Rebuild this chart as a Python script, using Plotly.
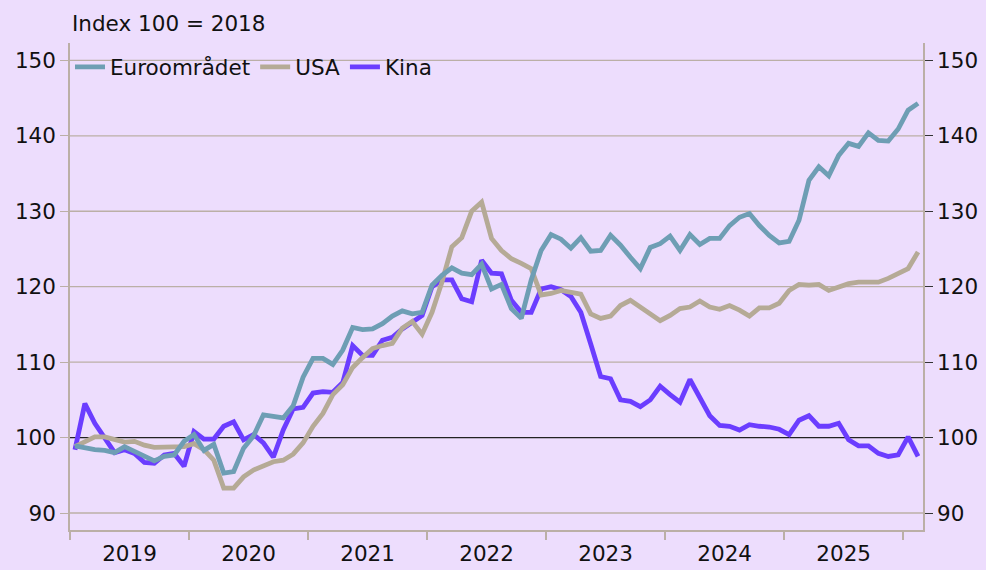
import plotly.graph_objects as go

# ---- data (monthly, Jan 2019 .. Feb 2026), index 2018 = 100 ----
months = [f"{y}-{m:02d}" for y in range(2019, 2027) for m in range(1, 13)][:86]

euro = [98.9, 98.6, 98.4, 98.3, 98.0, 98.8, 98.2, 97.5, 96.9, 97.5, 97.7, 99.5,
        100.4, 98.3, 99.1, 95.3, 95.5, 98.6, 100.2, 103.0, 102.8, 102.6, 104.2, 108.0,
        110.5, 110.5, 109.7, 111.6, 114.6, 114.3, 114.4, 115.1, 116.1, 116.8, 116.4, 116.6,
        120.2, 121.5, 122.5, 121.8, 121.6, 123.0, 119.7, 120.3, 117.1, 115.8, 120.9, 124.8,
        126.9, 126.3, 125.1, 126.5, 124.7, 124.8, 126.8, 125.5, 123.9, 122.4, 125.2, 125.7,
        126.7, 124.8, 126.9, 125.6, 126.4, 126.4, 128.1, 129.2, 129.7, 128.1, 126.8, 125.8,
        126.0, 128.8, 134.1, 135.9, 134.7, 137.4, 139.0, 138.6, 140.4, 139.4, 139.3, 140.9,
        143.4, 144.3]

usa = [98.8, 99.4, 100.1, 100.1, 99.8, 99.4, 99.5, 99.0, 98.7, 98.7, 98.7, 98.8,
       99.2, 98.4, 97.0, 93.3, 93.3, 94.8, 95.7, 96.3, 96.8, 97.0, 97.8, 99.3,
       101.5, 103.2, 105.7, 107.0, 109.3, 110.6, 111.8, 112.2, 112.5, 114.5, 115.4, 113.7,
       116.6, 120.6, 125.3, 126.5, 130.0, 131.2, 126.4, 124.8, 123.7, 123.1, 122.4, 118.9,
       119.1, 119.5, 119.2, 119.0, 116.4, 115.8, 116.1, 117.5, 118.2, 117.3, 116.4, 115.5,
       116.2, 117.1, 117.3, 118.1, 117.3, 117.0, 117.5, 116.9, 116.1, 117.2, 117.2, 117.8,
       119.5, 120.3, 120.2, 120.3, 119.5, 120.0, 120.4, 120.6, 120.6, 120.6, 121.1, 121.8,
       122.4, 124.6]

kina = [98.4, 104.5, 101.9, 99.8, 98.0, 98.4, 97.9, 96.7, 96.6, 97.7, 97.9, 96.2,
        100.8, 99.8, 99.8, 101.5, 102.1, 99.7, 100.4, 99.3, 97.4, 101.0, 103.8, 104.0,
        105.9, 106.1, 106.0, 107.3, 112.2, 110.9, 110.9, 112.9, 113.3, 114.4, 115.3, 116.2,
        120.0, 120.9, 120.9, 118.4, 118.0, 123.5, 121.8, 121.7, 118.2, 116.6, 116.6, 119.7,
        120.0, 119.6, 118.7, 116.6, 112.4, 108.1, 107.8, 105.0, 104.8, 104.1, 105.0, 106.8,
        105.7, 104.7, 107.7, 105.3, 102.9, 101.6, 101.5, 101.0, 101.7, 101.5, 101.4, 101.1,
        100.4, 102.3, 102.9, 101.5, 101.5, 101.9, 99.7, 98.9, 98.9, 97.9, 97.5, 97.7,
        100.1, 97.5]

year_labels = ["2019", "2020", "2021", "2022", "2023", "2024", "2025"]
y_ticks = [90, 100, 110, 120, 130, 140, 150]
BASE = 100

# ---- style ----
BG = "#EDDDFD"
GRID = "#BBAFA6"
C_EURO = "#6E9EB4"
C_USA = "#B5AA96"
C_KINA = "#6B3DFF"
FONT = "DejaVu Sans"
FS = 21.5
TXT = "#111111"
LW = 4.8

x = list(range(len(months)))
n = len(months)

fig = go.Figure()
fig.add_trace(go.Scatter(x=x, y=kina, name="Kina", mode="lines",
                         line=dict(color=C_KINA, width=LW), legendrank=3,
                         customdata=months, hovertemplate="%{customdata}: %{y}<extra>Kina</extra>"))
fig.add_trace(go.Scatter(x=x, y=usa, name="USA", mode="lines",
                         line=dict(color=C_USA, width=LW), legendrank=2,
                         customdata=months, hovertemplate="%{customdata}: %{y}<extra>USA</extra>"))
fig.add_trace(go.Scatter(x=x, y=euro, name="Euroområdet", mode="lines",
                         line=dict(color=C_EURO, width=LW), legendrank=1,
                         customdata=months, hovertemplate="%{customdata}: %{y}<extra>Euroområdet</extra>"))
# invisible trace to activate the right-hand axis
fig.add_trace(go.Scatter(x=x, y=euro, yaxis="y2", mode="lines", showlegend=False,
                         line=dict(width=0, color="rgba(0,0,0,0)"), hoverinfo="skip"))

yr = [87.75, 152.3]
xr = [-0.5, n - 0.5]

# horizontal gridlines (drawn as shapes so the base line can be dark)
for v in y_ticks:
    fig.add_shape(type="line", xref="paper", x0=0, x1=1, yref="y", y0=v, y1=v,
                  line=dict(color="#222222" if v == BASE else GRID,
                            width=1.4 if v == BASE else 1.3),
                  layer="below")

fig.update_layout(
    width=986, height=570,
    paper_bgcolor=BG, plot_bgcolor=BG,
    margin=dict(l=70, r=63, t=43, b=40, autoexpand=False),
    font=dict(family=FONT, size=FS, color=TXT),
    showlegend=True,
    legend=dict(orientation="h", x=0.0, y=0.993, xanchor="left", yanchor="top",
                bgcolor="rgba(0,0,0,0)", font=dict(size=FS, color=TXT),
                itemwidth=30, tracegroupgap=0),
    xaxis=dict(range=xr, showgrid=False, zeroline=False,
               showline=True, linecolor=GRID, linewidth=1.5,
               tickmode="array",
               tickvals=[12 * i + 5.5 for i in range(len(year_labels))],
               ticktext=year_labels,
               ticks="outside", ticklen=3, tickcolor="rgba(0,0,0,0)",
               tickfont=dict(size=FS, color=TXT),
               minor=dict(tickmode="array",
                          tickvals=[12 * i - 0.5 for i in range(len(year_labels) + 1)],
                          ticks="outside", ticklen=8, tickcolor=GRID, tickwidth=1.5,
                          showgrid=False)),
    yaxis=dict(range=yr, tickvals=y_ticks, showgrid=False,
               zeroline=False, showline=True, linecolor=GRID, linewidth=1.5,
               ticks="outside", ticklen=8, tickcolor=GRID, tickwidth=1.3,
               tickfont=dict(size=FS, color=TXT)),
    yaxis2=dict(range=yr, tickvals=y_ticks, overlaying="y", side="right",
                showgrid=False, zeroline=False, showline=True, linecolor=GRID, linewidth=1.5,
                ticks="outside", ticklen=8, tickcolor="#333333", tickwidth=1.3,
                tickfont=dict(size=FS, color=TXT)),
    annotations=[dict(text="Index 100 = 2018", xref="paper", yref="paper",
                      x=0, y=1, xanchor="left", yanchor="bottom", yshift=5,
                      showarrow=False, font=dict(size=FS, color=TXT))],
    hovermode="closest",
)

fig.write_html("out.html", config={"displayModeBar": False},
               post_script="document.body.style.margin='0';document.body.style.background='" + BG + "';")
